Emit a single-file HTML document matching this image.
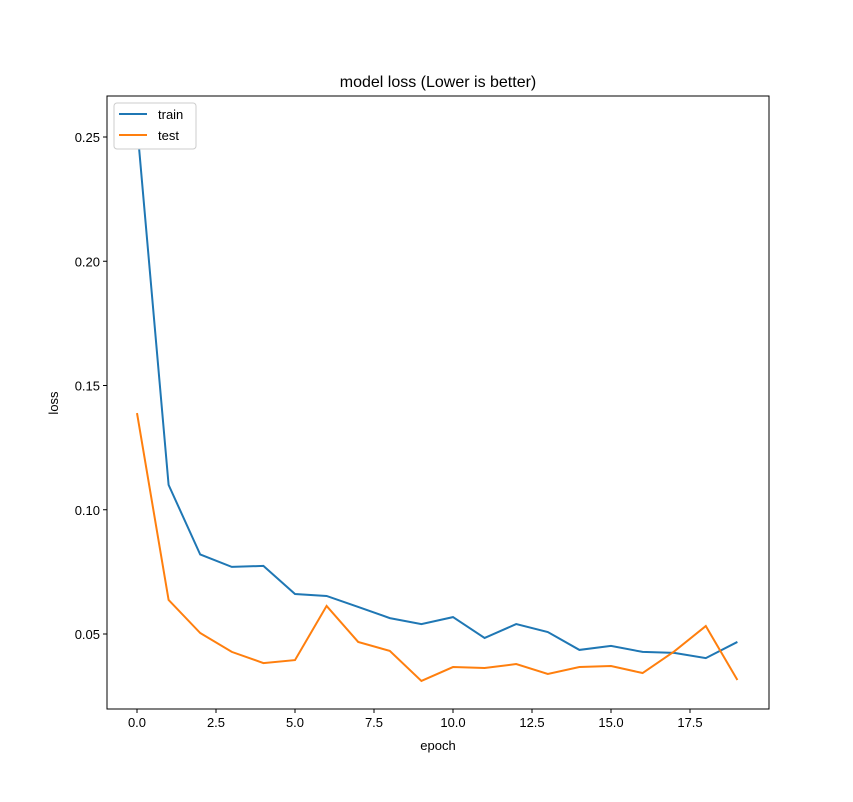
<!DOCTYPE html>
<html><head><meta charset="utf-8"><style>
body{margin:0;background:#fff;}
text{font-family:"Liberation Sans","DejaVu Sans",sans-serif;}
</style></head><body>
<svg id="chart" width="853" height="797" xmlns="http://www.w3.org/2000/svg">
<rect width="853" height="797" fill="#fff"/>
<text x="438" y="87" font-size="16" text-anchor="middle">model loss (Lower is better)</text>
<g id="plot"></g>
<rect x="107" y="96" width="662" height="613" fill="none" stroke="#000" stroke-width="1"/>
<text x="438" y="750" font-size="13" text-anchor="middle">epoch</text>
<text x="58" y="403" font-size="13" text-anchor="middle" transform="rotate(-90 58 403)">loss</text>
<g>
<rect x="114" y="103" width="82" height="46" fill="#fff" stroke="#ccc" rx="3"/>
<line x1="119" y1="114" x2="147" y2="114" stroke="#1f77b4" stroke-width="2"/>
<text x="158" y="119" font-size="13">train</text>
<line x1="119" y1="135" x2="147" y2="135" stroke="#ff7f0e" stroke-width="2"/>
<text x="158" y="140" font-size="13">test</text>
</g>
</svg>
<script>
const epochs=[0,1,2,3,4,5,6,7,8,9,10,11,12,13,14,15,16,17,18,19];
const trainLoss=[0.255,0.110,0.082,0.0770,0.0774,0.0661,0.0653,0.0609,0.0564,0.0540,0.0568,0.0484,0.0540,0.0508,0.0436,0.0452,0.0428,0.0424,0.0403,0.0468];
const testLoss=[0.1389,0.0637,0.0504,0.0428,0.0383,0.0395,0.0613,0.0468,0.0432,0.0311,0.0367,0.0363,0.0379,0.0339,0.0367,0.0371,0.0343,0.0430,0.0532,0.0315];
const xTicks=[0,2.5,5,7.5,10,12.5,15,17.5];
const xTickLabels=["0.0","2.5","5.0","7.5","10.0","12.5","15.0","17.5"];
const yTicks=[0.05,0.10,0.15,0.20,0.25];
const yTickLabels=["0.05","0.10","0.15","0.20","0.25"];
const NS="http://www.w3.org/2000/svg";
function xs(v){return 137+v*31.6;}
function ys(v){return 137+(0.25-v)*2485;}
const g=document.getElementById('plot');
function mk(t,a){const e=document.createElementNS(NS,t);for(const k in a)e.setAttribute(k,a[k]);return e;}
xTicks.forEach((t,i)=>{
 const l=mk('line',{x1:xs(t),x2:xs(t),y1:709,y2:713,stroke:'#000'});
 
 
 g.appendChild(l);
 const tx=mk('text',{x:xs(t),y:727,'font-size':13,'text-anchor':'middle'});
 tx.textContent=xTickLabels[i];
 
 
 g.appendChild(tx);
});
yTicks.forEach((t,i)=>{
 const l=mk('line',{x1:103,x2:107,y1:ys(t),y2:ys(t),stroke:'#000'});
 
 
 g.appendChild(l);
 const tx=mk('text',{x:100,y:ys(t)+5,'font-size':13,'text-anchor':'end'});
 tx.textContent=yTickLabels[i];
 
 
 g.appendChild(tx);
});
function line(data,color,name){
 const p=mk('polyline',{points:data.map((v,i)=>xs(epochs[i])+','+ys(v)).join(' '),fill:'none',stroke:color,'stroke-width':2});
 
 
 g.appendChild(p);
}
line(trainLoss,'#1f77b4','train-line');
line(testLoss,'#ff7f0e','test-line');
</script>
</body></html>
